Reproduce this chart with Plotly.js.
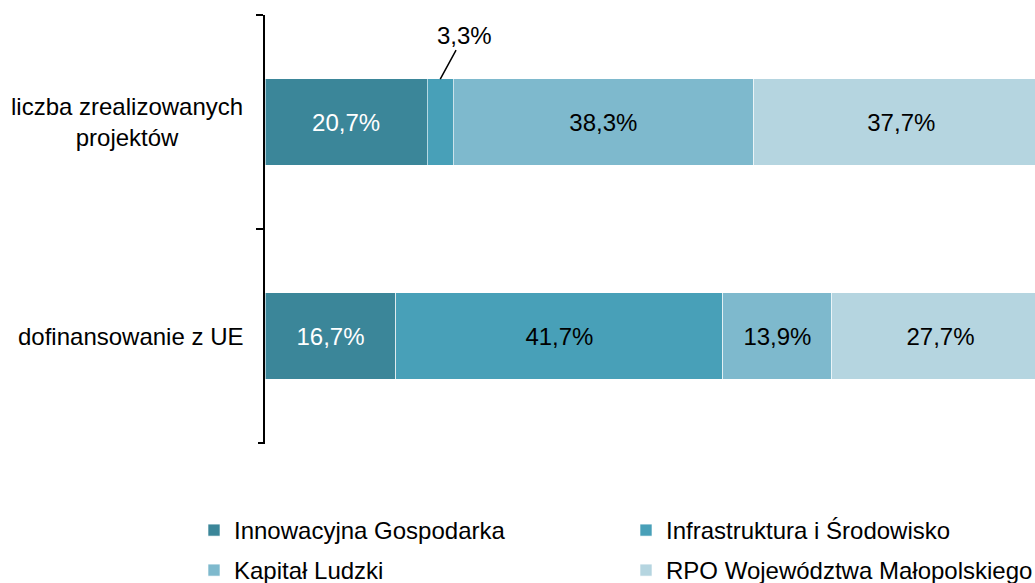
<!DOCTYPE html>
<html>
<head>
<meta charset="utf-8">
<script src="https://cdn.plot.ly/plotly-3.0.1.min.js"></script>
<style>html,body{margin:0;padding:0;background:#fff;}#chart{width:1035px;height:583px;}</style>
</head>
<body>
<div id="chart"></div>
<script>
const categories = ["liczba zrealizowanych<br>projektów", "dofinansowanie z UE"];
const seriesNames = ["Innowacyjna Gospodarka", "Infrastruktura i Środowisko", "Kapitał Ludzki", "RPO Województwa Małopolskiego"];
const innowacyjna = [20.7, 16.7];
const infrastruktura = [3.3, 41.7];
const kapital = [38.3, 13.9];
const rpo = [37.7, 27.7];
const colors = ["#3B8699", "#48A0B8", "#7EB9CD", "#B5D5E0"];
const textColors = ["#ffffff", "#000000", "#000000", "#000000"];

const FONT = "Arial, 'Liberation Sans', sans-serif";
const fmt = v => v.toFixed(1).replace('.', ',') + '%';
const series = [innowacyjna, infrastruktura, kapital, rpo];
const legendIds = ['legend', 'legend2', 'legend3', 'legend4'];

const traces = series.map((vals, i) => ({
  type: 'bar',
  orientation: 'h',
  name: seriesNames[i],
  y: categories,
  x: vals,
  text: vals.map(v => v < 5 ? '' : fmt(v)),
  textposition: 'inside',
  insidetextanchor: 'middle',
  textangle: 0,
  textfont: {family: FONT, size: 24, color: textColors[i]},
  marker: {color: colors[i], line: {color: 'rgba(255,255,255,0.6)', width: 1}},
  hoverinfo: 'skip',
  legend: legendIds[i]
}));

const annotations = [
  {
    xref: 'x', yref: 'y',
    x: innowacyjna[0] + infrastruktura[0] / 2, y: -0.2,
    text: fmt(infrastruktura[0]),
    showarrow: true, arrowhead: 0, arrowwidth: 1.5, arrowcolor: '#000',
    ax: 24, ay: -44,
    font: {family: FONT, size: 24, color: '#000'}
  }
];
categories.forEach((c, i) => {
  annotations.push({
    xref: 'paper', yref: 'y', x: 0, y: i, xanchor: 'right', yanchor: 'middle',
    xshift: -20, align: 'center', showarrow: false, text: c,
    font: {family: FONT, size: 24, color: '#000'}
  });
});

const legendBase = {
  orientation: 'v', xanchor: 'left', yanchor: 'top',
  xref: 'container', yref: 'container',
  font: {family: FONT, size: 24, color: '#000'},
  bgcolor: 'rgba(0,0,0,0)', itemclick: false, itemdoubleclick: false
};
// legend grid positions (container fractions)
const colX = [194 / 1035, 626 / 1035];
const rowY = [1 - 508 / 583, 1 - 548 / 583];

const layout = {
  width: 1035, height: 583,
  margin: {l: 265, r: 0, t: 15, b: 140, autoexpand: false},
  paper_bgcolor: '#fff', plot_bgcolor: '#fff',
  barmode: 'stack',
  bargap: 0.595,
  font: {family: FONT, size: 24, color: '#000'},
  showlegend: true,
  legend: Object.assign({}, legendBase, {x: colX[0], y: rowY[0]}),
  legend2: Object.assign({}, legendBase, {x: colX[1], y: rowY[0]}),
  legend3: Object.assign({}, legendBase, {x: colX[0], y: rowY[1]}),
  legend4: Object.assign({}, legendBase, {x: colX[1], y: rowY[1]}),
  xaxis: {range: [0, 98.2], visible: false, fixedrange: true},
  yaxis: {
    type: 'category', range: [1.5, -0.5],
    showticklabels: false, showgrid: false, zeroline: false,
    showline: true, linecolor: '#000', linewidth: 2,
    ticks: 'outside', ticklen: 7, tickwidth: 2, tickcolor: '#000',
    tickson: 'boundaries', fixedrange: true
  },
  shapes: [
    // closing boundary tick at the bottom of the category axis
    {type: 'line', xref: 'paper', xsizemode: 'pixel', xanchor: 0, x0: -7, x1: 0,
     yref: 'paper', y0: 0, y1: 0, line: {color: '#000', width: 2}}
  ],
  annotations: annotations
};

Plotly.newPlot('chart', traces, layout, {displayModeBar: false, staticPlot: true});
</script>
</body>
</html>
